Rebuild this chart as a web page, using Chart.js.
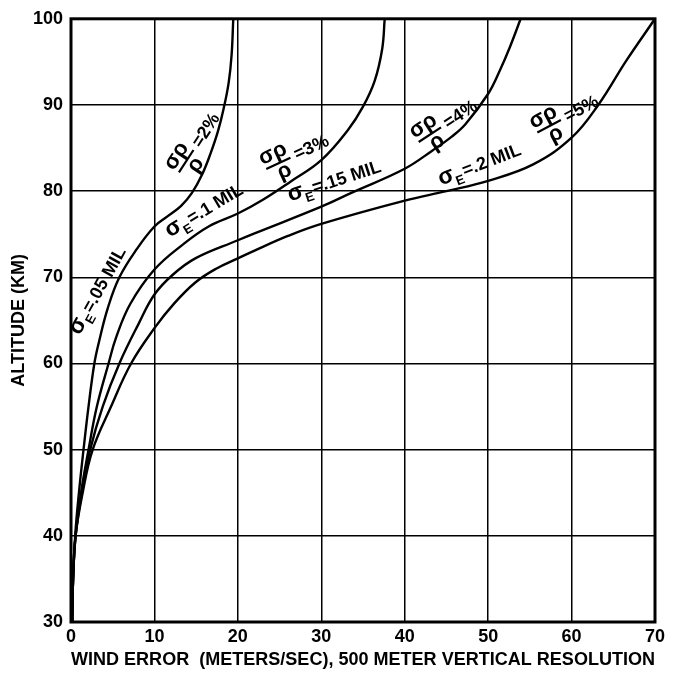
<!DOCTYPE html>
<html><head><meta charset="utf-8">
<script src="https://cdn.jsdelivr.net/npm/chart.js@4.4.1/dist/chart.umd.min.js"></script>
<style>html,body{margin:0;padding:0;background:#fff;}canvas{display:block;}</style>
</head><body>
<canvas id="c" width="688" height="685"></canvas>
<script>
// ---- data ----
const xTicks = [0, 10, 20, 30, 40, 50, 60, 70];
const yTicks = [30, 40, 50, 60, 70, 80, 90, 100];
const xTitle = 'WIND ERROR  (METERS/SEC), 500 METER VERTICAL RESOLUTION';
const yTitle = 'ALTITUDE (KM)';

// sigma_E = .05 MIL, sigma_rho/rho = 2%
const wind05 = [0.15, 0.25, 0.5, 0.95, 1.5, 2.1, 2.8, 3.35, 4.4, 5.8, 7.9, 10.0, 11.6, 13.2, 14.5, 15.7, 16.7, 17.6, 18.3, 18.9, 19.25, 19.45];
const alt05  = [30, 35, 40, 45, 50, 55, 60, 62.5, 66.4, 70, 73.3, 75.9, 77.1, 78.3, 79.8, 81.9, 84.3, 86.9, 89.6, 92.6, 95.8, 100];
// sigma_E = .1 MIL, 3%
const wind10 = [0.15, 0.25, 0.55, 1.2, 2.1, 3.1, 4.5, 5.4, 7.1, 10.0, 13.4, 16.5, 20.0, 23.0, 26.3, 30.0, 33.2, 35.0, 36.4, 37.3, 37.6];
const alt10  = [30, 35, 40, 45, 50, 55, 60, 63, 66.9, 70.9, 73.8, 75.9, 77.4, 79.0, 81.1, 83.6, 87.1, 89.8, 92.8, 96.5, 100];
// sigma_E = .15 MIL, 4%
const wind15 = [0.15, 0.25, 0.55, 1.3, 2.3, 3.8, 5.8, 8.1, 10.0, 12.2, 14.9, 20.0, 22.0, 30.0, 33.6, 40.0, 43.3, 45.6, 47.3, 50.0, 51.4, 52.6, 53.9];
const alt15  = [30, 35, 40, 45, 50, 55, 60, 64.6, 68.0, 70.3, 72.2, 74.3, 75.1, 78.2, 79.8, 82.6, 84.7, 86.3, 87.8, 91.3, 94, 96.7, 100];
// sigma_E = .2 MIL, 5%
const wind20 = [0.15, 0.25, 0.55, 1.4, 2.6, 4.8, 7.2, 10.0, 12.4, 14.9, 17.4, 20.0, 22.0, 26.0, 30.0, 40.0, 45.0, 50.0, 55.4, 60.0, 63.2, 66.6, 70.0];
const alt20  = [30, 35, 40, 45, 50, 55, 60, 64.1, 67.0, 69.4, 71.0, 72.2, 73.1, 74.8, 76.2, 78.9, 80, 81.2, 83.1, 86.2, 90, 95.2, 100];

// curve annotations (anchored in data units)
const curveLabels = [
  {kind: 'sigma', text: '=.05 MIL', x: 3.3,  y: 68.4, angle: -61},
  {kind: 'frac',  text: '=2%',      x: 15.1, y: 85.4, angle: -57},
  {kind: 'sigma', text: '=.1 MIL',  x: 16.0, y: 77.7, angle: -31},
  {kind: 'frac',  text: '=3%',      x: 27.0, y: 84.2, angle: -25},
  {kind: 'sigma', text: '=.15 MIL', x: 31.6, y: 81.1, angle: -18},
  {kind: 'frac',  text: '=4%',      x: 45.0, y: 87.8, angle: -33},
  {kind: 'sigma', text: '=.2 MIL',  x: 49.0, y: 83.0, angle: -21},
  {kind: 'frac',  text: '=5%',      x: 59.4, y: 88.6, angle: -28}
];

const FAM = '"Liberation Sans", Arial, sans-serif';
const pts = (xs, ys) => xs.map((v, i) => ({x: v, y: ys[i]}));
const mk = (xs, ys) => ({
  data: pts(xs, ys), showLine: true, borderColor: '#000', borderWidth: 2.4,
  pointRadius: 0, fill: false, tension: 0.4
});

const framePlugin = {
  id: 'frame',
  beforeDatasetsDraw(chart) {
    const {ctx, chartArea: a} = chart;
    ctx.save();
    ctx.strokeStyle = '#000';
    ctx.lineWidth = 3;
    ctx.strokeRect(a.left, a.top, a.right - a.left, a.bottom - a.top);
    ctx.restore();
  }
};

function drawSigma(ctx, l) {
  const fBig = 'bold 23px ' + FAM, fSub = 'bold 13px ' + FAM, fTxt = 'bold 18px ' + FAM;
  ctx.font = fBig; const w1 = ctx.measureText('σ').width;
  ctx.font = fSub; const w2 = ctx.measureText('E').width;
  ctx.font = fTxt; const w3 = ctx.measureText(l.text).width;
  let x0 = -(w1 + w2 + 1 + w3) / 2;
  ctx.font = fBig; ctx.fillText('σ', x0, 5); x0 += w1;
  ctx.font = fSub; ctx.fillText('E', x0, 11); x0 += w2 + 1;
  ctx.font = fTxt; ctx.fillText(l.text, x0, 5);
}

function drawFrac(ctx, l) {
  const fBig = 'bold 22px ' + FAM, fTxt = 'bold 18px ' + FAM;
  ctx.font = fBig;
  const wn = ctx.measureText('σρ').width, wd = ctx.measureText('ρ').width;
  ctx.font = fTxt; const wt = ctx.measureText(l.text).width;
  const fw = wn;
  let x0 = -(fw + 5 + wt) / 2;
  ctx.font = fBig;
  ctx.fillText('σρ', x0, -5);
  ctx.beginPath(); ctx.lineWidth = 2.2;
  ctx.moveTo(x0 + 2, 0); ctx.lineTo(x0 + fw, 0); ctx.stroke();
  ctx.fillText('ρ', x0 + (fw - wd) / 2 + 3, 16);
  ctx.font = fTxt;
  ctx.fillText(l.text, x0 + fw + 5, 5);
}

const labelPlugin = {
  id: 'curveLabels',
  afterDatasetsDraw(chart) {
    const {ctx, scales: {x, y}} = chart;
    ctx.save();
    ctx.fillStyle = '#000'; ctx.strokeStyle = '#000';
    ctx.textBaseline = 'alphabetic'; ctx.textAlign = 'left';
    curveLabels.forEach(l => {
      ctx.save();
      ctx.translate(x.getPixelForValue(l.x), y.getPixelForValue(l.y));
      ctx.rotate(l.angle * Math.PI / 180);
      if (l.kind === 'sigma') drawSigma(ctx, l); else drawFrac(ctx, l);
      ctx.restore();
    });
    ctx.restore();
  }
};

new Chart(document.getElementById('c'), {
  type: 'scatter',
  data: {
    datasets: [mk(wind05, alt05), mk(wind10, alt10), mk(wind15, alt15), mk(wind20, alt20)]
  },
  options: {
    responsive: false, animation: false, devicePixelRatio: 1,
    layout: {padding: {top: 17, right: 33, left: 0, bottom: 0}},
    plugins: {legend: {display: false}, tooltip: {enabled: false}},
    scales: {
      x: {
        type: 'linear', min: 0, max: 70,
        afterBuildTicks: s => { s.ticks = xTicks.map(v => ({value: v})); },
        afterFit: s => { s.height = 63; },
        grid: {color: '#000', lineWidth: 1.5, drawTicks: false},
        border: {display: false},
        ticks: {padding: 4, color: '#000', maxRotation: 0, font: {family: FAM, size: 18, weight: 'bold'}},
        title: {display: true, text: xTitle, color: '#000', padding: {top: 0, bottom: 14},
                font: {family: FAM, size: 18.5, weight: 'bold'}}
      },
      y: {
        type: 'linear', min: 30, max: 100,
        afterBuildTicks: s => { s.ticks = yTicks.map(v => ({value: v})); },
        afterFit: s => { s.width = 71; },
        grid: {color: '#000', lineWidth: 1.5, drawTicks: false},
        border: {display: false},
        ticks: {padding: 8, color: '#000', font: {family: FAM, size: 18, weight: 'bold'}},
        title: {display: true, text: yTitle, color: '#000', padding: {top: 8, bottom: 0},
                font: {family: FAM, size: 18, weight: 'bold'}}
      }
    }
  },
  plugins: [framePlugin, labelPlugin]
});
</script>
</body></html>
